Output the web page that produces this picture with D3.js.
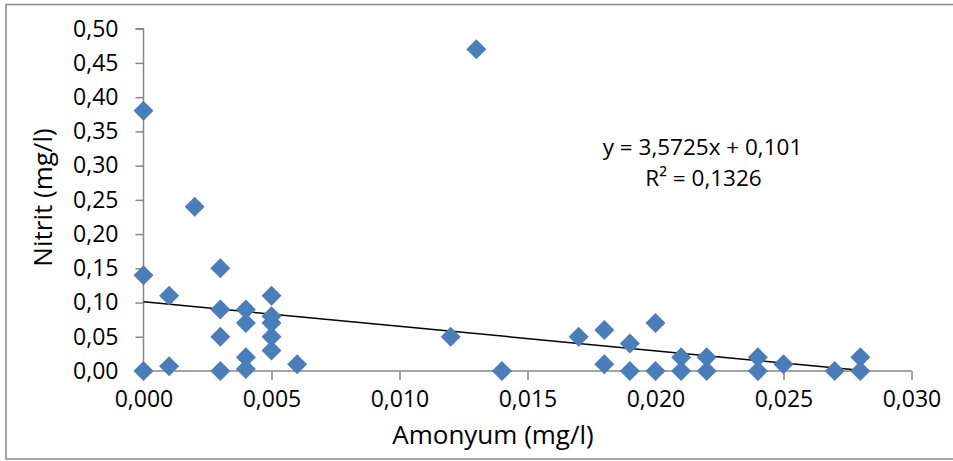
<!DOCTYPE html>
<html>
<head>
<meta charset="utf-8">
<script src="https://cdn.jsdelivr.net/npm/d3@7"></script>
<style>
  html, body { margin: 0; padding: 0; background: #fff; }
  svg { display: block; }
  text { font-family: "Open Sans", "Liberation Sans", sans-serif; fill: #000; }
</style>
</head>
<body>
<svg id="chart" width="953" height="461"></svg>
<script>
// ---- data ----
const amonyum = [0.000, 0.000, 0.000, 0.001, 0.001, 0.002, 0.003, 0.003, 0.003, 0.003,
                 0.004, 0.004, 0.004, 0.004, 0.005, 0.005, 0.005, 0.005, 0.005, 0.006,
                 0.012, 0.013, 0.014, 0.017, 0.018, 0.018, 0.019, 0.019, 0.020, 0.020,
                 0.021, 0.021, 0.022, 0.022, 0.024, 0.024, 0.025, 0.027, 0.028, 0.028];
const nitrit  = [0.38, 0.14, 0.00, 0.11, 0.007, 0.24, 0.15, 0.09, 0.05, 0.00,
                 0.09, 0.07, 0.02, 0.003, 0.11, 0.08, 0.07, 0.05, 0.03, 0.01,
                 0.05, 0.47, 0.00, 0.05, 0.06, 0.01, 0.04, 0.00, 0.07, 0.00,
                 0.02, 0.00, 0.02, 0.00, 0.02, 0.00, 0.01, 0.00, 0.02, 0.00];
const xTicks = [0, 0.005, 0.010, 0.015, 0.020, 0.025, 0.030];
const yTicks = [0, 0.05, 0.10, 0.15, 0.20, 0.25, 0.30, 0.35, 0.40, 0.45, 0.50];
const trendSlope = -3.5725;
const trendIntercept = 0.101;
const equationLines = ["y = 3,5725x + 0,101", "R² = 0,1326"];
const xTitle = "Amonyum (mg/l)";
const yTitle = "Nitrit (mg/l)";

// ---- layout ----
const svg = d3.select("#chart");
const x = d3.scaleLinear().domain([0, 0.03]).range([143.5, 911.5]);
const y = d3.scaleLinear().domain([0, 0.5]).range([371, 28.7]);
const fmt = (d, n) => d.toFixed(n).replace(".", ",");
const axisColor = "#878787";

// outer border
svg.append("rect").attr("x", 6).attr("y", 4.5).attr("width", 1000).attr("height", 454.5)
  .attr("fill", "none").attr("stroke", axisColor).attr("stroke-width", 1.5);

// y axis
const gy = svg.append("g").attr("transform", `translate(${x(0)},0)`)
  .call(d3.axisLeft(y).tickValues(yTicks).tickSize(8).tickPadding(17).tickFormat(d => fmt(d, 2)));
// x axis
const gx = svg.append("g").attr("transform", `translate(0,${y(0)})`)
  .call(d3.axisBottom(x).tickValues(xTicks).tickSize(9).tickPadding(11).tickFormat(d => fmt(d, 3)));

[gx, gy].forEach(g => {
  g.select(".domain").attr("stroke", axisColor).attr("stroke-width", 1.5);
  g.selectAll(".tick line").attr("stroke", axisColor).attr("stroke-width", 1.5);
  g.selectAll(".tick text").attr("font-size", 23).attr("font-family", '"Open Sans", sans-serif').attr("fill", "#000");
});
gy.select(".domain").attr("d", `M-8,${y(0.5)}H0V${y(0)}`);
gx.select(".domain").attr("d", `M${x(0)},0H${x(0.03)}`);

// trendline
const xMin = d3.min(amonyum), xMax = d3.max(amonyum);
svg.append("line")
  .attr("x1", x(xMin)).attr("y1", y(trendIntercept + trendSlope * xMin))
  .attr("x2", x(xMax)).attr("y2", y(trendIntercept + trendSlope * xMax))
  .attr("stroke", "#000").attr("stroke-width", 1.5);

// points (diamonds)
const diamond = d3.symbol().type(d3.symbolSquare).size(200);
svg.append("g").selectAll("path")
  .data(amonyum.map((a, i) => [a, nitrit[i]]))
  .join("path")
  .attr("d", diamond)
  .attr("transform", d => `translate(${x(d[0])},${y(d[1])}) rotate(45)`)
  .attr("fill", "#4A7EBB");

// equation labels
svg.append("text").attr("x", 702.5).attr("y", 155).attr("text-anchor", "middle")
  .attr("font-size", 22.5).text(equationLines[0]);
svg.append("text").attr("x", 703.5).attr("y", 186).attr("text-anchor", "middle")
  .attr("font-size", 22.5).text(equationLines[1]);

// axis titles
svg.append("text").attr("x", 493).attr("y", 443.5).attr("text-anchor", "middle")
  .attr("font-size", 26).text(xTitle);
svg.append("text").attr("transform", "translate(52,197.5) rotate(-90)")
  .attr("text-anchor", "middle").attr("font-size", 26).text(yTitle);
</script>
</body>
</html>
